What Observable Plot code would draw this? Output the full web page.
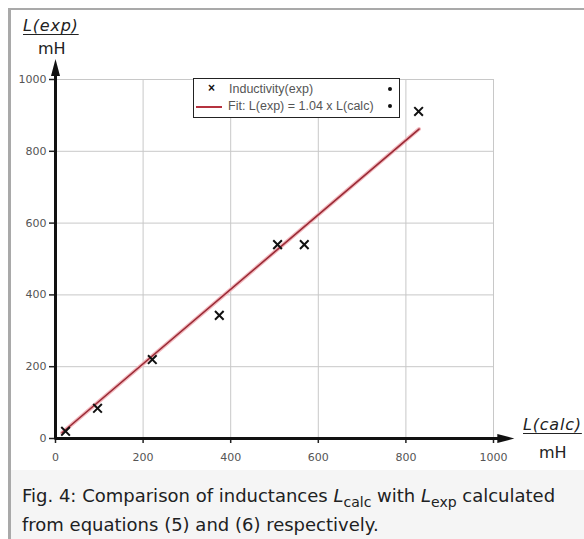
<!DOCTYPE html>
<html>
<head>
<meta charset="utf-8">
<script src="https://cdn.jsdelivr.net/npm/d3@7"></script>
<script src="https://cdn.jsdelivr.net/npm/@observablehq/plot@0.6"></script>
<style>
  html, body { margin: 0; padding: 0; background: #fff; width: 584px; height: 539px; overflow: hidden; }
  #frame { position: absolute; left: 8px; top: 8px; width: 600px; height: 540px;
           border-top: 2px solid #a9a9a9; border-left: 3px solid #a9a9a9; background: #f5f5f5; }
  #chart { position: absolute; left: 11px; top: 10px; width: 573px; height: 460px; background: #fff; }
  #chart svg { display: block; }
  .lbl { position: absolute; font-family: "DejaVu Sans", sans-serif; color: #222; font-size: 16px; }
  .ital { font-style: italic; text-decoration: underline; text-underline-offset: 3px; letter-spacing: 0.8px; }
  #legend { position: absolute; left: 193px; top: 78px; width: 205px; height: 38px; border: 1px solid #222;
            background: #fff; font-family: "Liberation Sans", Arial, sans-serif; font-size: 12.5px; color: #555; }
  #caption { position: absolute; left: 22px; top: 481px; font-family: "DejaVu Sans", sans-serif; font-size: 18px;
             color: #202122; line-height: 29px; white-space: nowrap; }
  #caption sub { font-size: 14px; line-height: 0; }
</style>
</head>
<body>
<div id="frame"></div>
<div id="chart"></div>
<div class="lbl ital" style="left:23px; top:16px;">L(exp)</div>
<div class="lbl" style="left:38px; top:39px;">mH</div>
<div class="lbl ital" style="left:523px; top:415px;">L(calc)</div>
<div class="lbl" style="left:539px; top:443px;">mH</div>
<div id="legend">
  <div style="position:absolute; left:14px; top:2px; font-size:12px; color:#111; font-weight:bold;">×</div>
  <div style="position:absolute; left:35px; top:3px;">Inductivity(exp)</div>
  <div style="position:absolute; left:2px; top:27px; width:26px; height:2px; background:#b5323f;"></div>
  <div style="position:absolute; left:34px; top:20px;">Fit: L(exp) = 1.04 x L(calc)</div>
  <div style="position:absolute; left:194px; top:8px; width:4px; height:4px; border-radius:2px; background:#111;"></div>
  <div style="position:absolute; left:194px; top:25px; width:4px; height:4px; border-radius:2px; background:#111;"></div>
</div>
<div id="caption">Fig. 4: Comparison of inductances <i>L</i><sub>calc</sub> with <i>L</i><sub>exp</sub> calculated<br>from equations (5) and (6) respectively.</div>
<script>
// Measured points: L(calc) vs L(exp), mH
const lCalc = [23, 96, 221, 374, 507, 568, 829];
const lExp  = [20, 84, 220, 343, 540, 540, 911];
// Fit line endpoints, L(exp) = 1.04 x L(calc)
const fitCalc = [15, 830];
const fitExp  = [16, 862];
const xTicks = [0, 200, 400, 600, 800, 1000];
const yTicks = [0, 200, 400, 600, 800, 1000];
const gridX = [200, 400, 600, 800, 1000];
const gridY = [200, 400, 600, 800, 1000];

const points = lCalc.map((x, i) => ({x, y: lExp[i]}));
const fit = fitCalc.map((x, i) => ({x, y: fitExp[i]}));

const arrowSym = {
  draw(ctx) {
    ctx.moveTo(9, 0);
    ctx.lineTo(-8, -4.5);
    ctx.lineTo(-8, 4.5);
    ctx.closePath();
  }
};

const chart = Plot.plot({
  width: 573,
  height: 460,
  marginLeft: 44,
  marginRight: 91,
  marginTop: 69,
  marginBottom: 32,
  style: { background: "transparent", fontFamily: "DejaVu Sans, sans-serif" },
  x: { domain: [0, 1000] },
  y: { domain: [0, 1000] },
  marks: [
    Plot.gridX(gridX, { stroke: "#c8c8c8", strokeOpacity: 1, strokeWidth: 1 }),
    Plot.gridY(gridY, { stroke: "#c8c8c8", strokeOpacity: 1, strokeWidth: 1 }),
    Plot.axisX(xTicks, { tickSize: 5, tickPadding: 10, fontSize: 11, fill: "#555", label: null, tickFormat: "d", stroke: "#222", strokeWidth: 1.5 }),
    Plot.axisY(yTicks, { tickSize: 6, tickPadding: 3, fontSize: 11, fill: "#555", label: null, tickFormat: "d", stroke: "#222", strokeWidth: 1.5 }),
    Plot.ruleY([0], { x1: 0, x2: 1027, stroke: "#111", strokeWidth: 3 }),
    Plot.ruleX([0], { y1: -4, y2: 1032, stroke: "#111", strokeWidth: 3 }),
    Plot.dot([{x: 1027, y: 0}], { x: "x", y: "y", symbol: arrowSym, fill: "#111", stroke: "none", r: 5 }),
    Plot.dot([{x: 0, y: 1032}], { x: "x", y: "y", symbol: arrowSym, rotate: -90, fill: "#111", stroke: "none", r: 5 }),
    Plot.line(fit, { x: "x", y: "y", stroke: "#f2b8be", strokeWidth: 4 }),
    Plot.line(fit, { x: "x", y: "y", stroke: "#9a2a35", strokeWidth: 1.6 }),
    Plot.dot(points, { x: "x", y: "y", symbol: "times", r: 4, stroke: "#111", strokeWidth: 2 })
  ]
});
document.getElementById("chart").appendChild(chart);
</script>
</body>
</html>
